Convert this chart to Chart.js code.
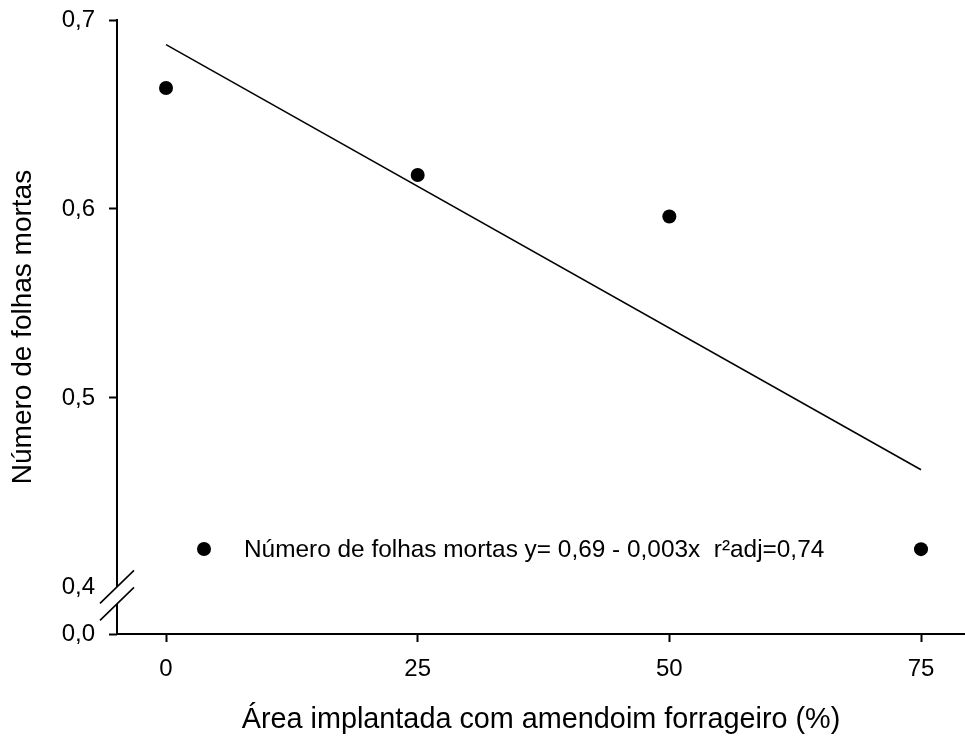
<!DOCTYPE html>
<html>
<head>
<meta charset="utf-8">
<script src="https://cdn.jsdelivr.net/npm/chart.js@4.4.1/dist/chart.umd.min.js"></script>
<style>
  html, body { margin: 0; padding: 0; background: #fff; }
  canvas { display: block; }
</style>
</head>
<body>
<canvas id="c" width="965" height="737"></canvas>
<script>
// Observed dead leaves per tiller against the share of area planted with forage peanut
const areaPct = [0, 25, 50, 75];
const deadLeaves = [0.664, 0.618, 0.596, 0.420];

// Fitted regression line end points
const fitX = [0, 75];
const fitY = [0.687, 0.462];

// Axis ticks
const xTicks = [0, 25, 50, 75];
const yTicks = [0.4, 0.5, 0.6, 0.7];
const Y_FLOOR = 0.3751;   // origin of the broken axis, labelled 0,0
const Y_TOP = 0.7;
const X_MIN = -4.87;
const X_MAX = 79.37;

const xTitle = 'Área implantada com amendoim forrageiro (%)';
const yTitle = 'Número de folhas mortas';
const legendText = 'Número de folhas mortas y= 0,69 - 0,003x  r²adj=0,74';

const FONT = '"Liberation Sans", Arial, sans-serif';
const fmt = v => (v === Y_FLOOR ? '0,0' : v.toFixed(1).replace('.', ','));

// Broken y axis: axis line with a gap and two slashes just below 0,4
const axisBreak = {
  id: 'axisBreak',
  afterDraw(chart) {
    const { ctx, chartArea } = chart;
    const y = chart.scales.y;
    const x0 = chartArea.left;
    const pTop = y.getPixelForValue(Y_TOP);
    const pBreak = y.getPixelForValue(0.4);
    const pBottom = y.getPixelForValue(Y_FLOOR);
    const gap = 17;
    ctx.save();
    ctx.strokeStyle = '#000';
    ctx.lineWidth = 2;
    ctx.beginPath();
    ctx.moveTo(x0, pTop - 1);
    ctx.lineTo(x0, pBreak);
    ctx.moveTo(x0, pBreak + gap);
    ctx.lineTo(x0, pBottom + 1);
    ctx.stroke();
    ctx.lineWidth = 1.6;
    ctx.beginPath();
    [pBreak, pBreak + gap].forEach(cy => {
      ctx.moveTo(x0 - 17, cy + 16.5);
      ctx.lineTo(x0 + 17, cy - 16.5);
    });
    ctx.stroke();
    ctx.restore();
  }
};

// Legend drawn inside the plot area
const innerLegend = {
  id: 'innerLegend',
  afterDatasetsDraw(chart) {
    const { ctx, chartArea } = chart;
    const cy = chartArea.bottom - 85;
    ctx.save();
    ctx.fillStyle = '#000';
    ctx.beginPath();
    ctx.arc(chartArea.left + 87, cy, 7, 0, Math.PI * 2);
    ctx.fill();
    ctx.font = '24.4px ' + FONT;
    ctx.textBaseline = 'middle';
    ctx.textAlign = 'left';
    ctx.fillText(legendText, chartArea.left + 127, cy + 1);
    ctx.restore();
  }
};

new Chart(document.getElementById('c'), {
  data: {
    datasets: [
      {
        type: 'line',
        label: 'Regressão',
        data: fitX.map((x, i) => ({ x, y: fitY[i] })),
        borderColor: '#000',
        borderWidth: 1.5,
        pointRadius: 0,
        fill: false,
        tension: 0
      },
      {
        type: 'scatter',
        label: 'Número de folhas mortas',
        data: areaPct.map((x, i) => ({ x, y: deadLeaves[i] })),
        backgroundColor: '#000',
        borderColor: '#000',
        borderWidth: 0,
        pointRadius: 7,
        pointHoverRadius: 7
      }
    ]
  },
  options: {
    responsive: false,
    animation: false,
    devicePixelRatio: 1,
    layout: { autoPadding: false, padding: { top: 20, right: 0, bottom: 0, left: 0 } },
    plugins: { legend: { display: false }, tooltip: { enabled: false } },
    scales: {
      x: {
        type: 'linear',
        position: 'bottom',
        min: X_MIN,
        max: X_MAX,
        afterBuildTicks: s => { s.ticks = xTicks.map(v => ({ value: v })); },
        afterFit: s => { s.height = 103; s.paddingLeft = 0; s.paddingRight = 0; },
        ticks: {
          autoSkip: false,
          padding: 13,
          color: '#000',
          font: { family: FONT, size: 24 },
          callback: v => String(v)
        },
        grid: {
          drawOnChartArea: false,
          drawTicks: true,
          tickLength: 8,
          tickWidth: 2,
          tickColor: '#000'
        },
        border: { display: true, color: '#000', width: 2 },
        title: {
          display: true,
          text: xTitle,
          color: '#000',
          font: { family: FONT, size: 28.8 },
          padding: { top: 0, bottom: 0 }
        }
      },
      y: {
        type: 'linear',
        position: 'left',
        min: Y_FLOOR,
        max: Y_TOP,
        afterBuildTicks: s => { s.ticks = [Y_FLOOR].concat(yTicks).map(v => ({ value: v })); },
        afterFit: s => { s.width = 117; s.paddingTop = 0; s.paddingBottom = 0; },
        ticks: {
          autoSkip: false,
          padding: 14,
          color: '#000',
          font: { family: FONT, size: 24 },
          callback: v => fmt(v)
        },
        grid: {
          drawOnChartArea: false,
          drawTicks: true,
          tickLength: 8,
          tickWidth: 2,
          tickColor: c => (c.tick && c.tick.value === 0.4 ? 'rgba(0,0,0,0)' : '#000')
        },
        border: { display: false },
        title: {
          display: true,
          text: yTitle,
          color: '#000',
          font: { family: FONT, size: 28 },
          padding: { top: 6, bottom: 0 }
        }
      }
    }
  },
  plugins: [axisBreak, innerLegend]
});
</script>
</body>
</html>
